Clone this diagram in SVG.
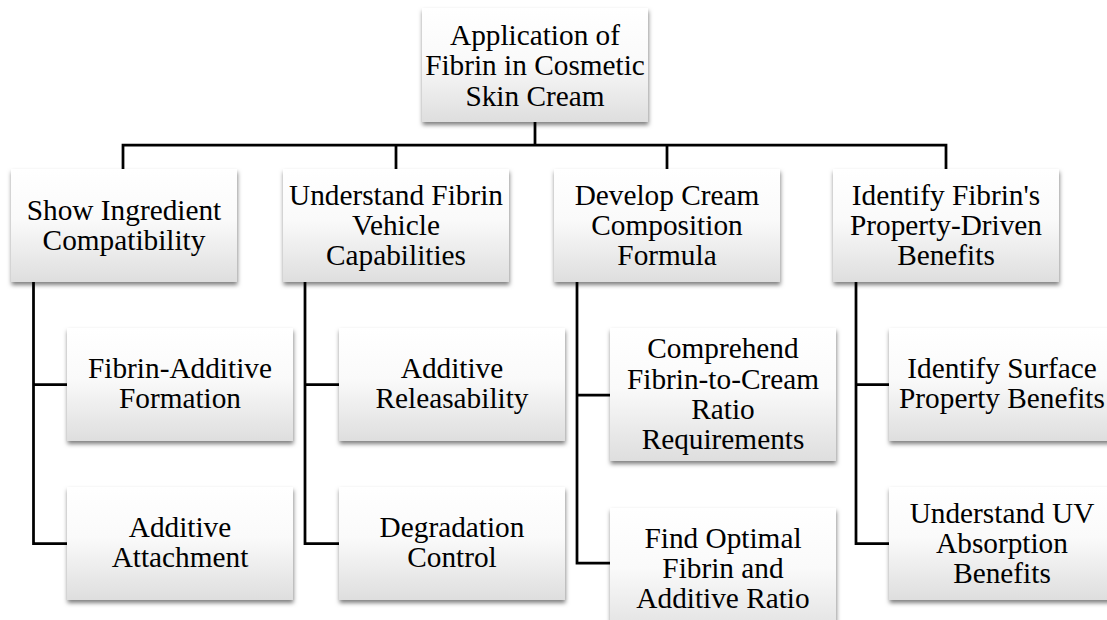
<svg xmlns="http://www.w3.org/2000/svg" width="1107" height="620" viewBox="0 0 1107 620">
<style>
.box{fill:url(#g);filter:url(#sh)}
.t{font-family:"Liberation Serif","Times New Roman",serif;font-size:29.3px;fill:#000;text-anchor:middle}
.c{fill:none;stroke:#000;stroke-width:2.75;stroke-linejoin:miter}
</style>
<defs>
<linearGradient id="g" x1="0" y1="0" x2="0" y2="1">
<stop offset="0" stop-color="#ffffff"/>
<stop offset="0.45" stop-color="#fafafa"/>
<stop offset="1" stop-color="#dedede"/>
</linearGradient>
<filter id="sh" x="-10%" y="-10%" width="120%" height="130%">
<feDropShadow dx="0.5" dy="3" stdDeviation="2.2" flood-color="#000" flood-opacity="0.5"/>
</filter>
</defs>
<rect width="1107" height="620" fill="#fff"/>
<g id="connectors">
<path class="c" d="M535,122V145M123,169V145H946V169M396,145V169M667,145V169"/>
<path class="c" d="M33.5,282V543.5H67M33.5,384.5H67"/>
<path class="c" d="M305,282V543.5H339M305,384.5H339"/>
<path class="c" d="M577,282V563H610M577,395H610"/>
<path class="c" d="M856,282V543.5H889M856,384.5H889"/>
</g>
<g id="root">
<rect class="box" x="422" y="8" width="226" height="114"/>
<text class="t" x="535"><tspan x="535" y="44.5">Application of</tspan><tspan x="535" y="75">Fibrin in Cosmetic</tspan><tspan x="535" y="105.5">Skin Cream</tspan></text>
</g>
<g id="n1">
<rect class="box" x="11" y="169" width="226" height="113"/>
<text class="t"><tspan x="124" y="220">Show Ingredient</tspan><tspan x="124" y="250">Compatibility</tspan></text>
</g>
<g id="n2">
<rect class="box" x="283" y="169" width="226" height="113"/>
<text class="t"><tspan x="396" y="205">Understand Fibrin</tspan><tspan x="396" y="235">Vehicle</tspan><tspan x="396" y="265">Capabilities</tspan></text>
</g>
<g id="n3">
<rect class="box" x="554" y="169" width="226" height="113"/>
<text class="t"><tspan x="667" y="205">Develop Cream</tspan><tspan x="667" y="235">Composition</tspan><tspan x="667" y="265">Formula</tspan></text>
</g>
<g id="n4">
<rect class="box" x="833" y="169" width="226" height="113"/>
<text class="t"><tspan x="946" y="205">Identify Fibrin's</tspan><tspan x="946" y="235">Property-Driven</tspan><tspan x="946" y="265">Benefits</tspan></text>
</g>
<g id="n1a">
<rect class="box" x="67" y="328" width="226" height="113"/>
<text class="t"><tspan x="180" y="378">Fibrin-Additive</tspan><tspan x="180" y="408">Formation</tspan></text>
</g>
<g id="n1b">
<rect class="box" x="67" y="487" width="226" height="113"/>
<text class="t"><tspan x="180" y="537">Additive</tspan><tspan x="180" y="567">Attachment</tspan></text>
</g>
<g id="n2a">
<rect class="box" x="339" y="328" width="226" height="113"/>
<text class="t"><tspan x="452" y="378">Additive</tspan><tspan x="452" y="408">Releasability</tspan></text>
</g>
<g id="n2b">
<rect class="box" x="339" y="487" width="226" height="113"/>
<text class="t"><tspan x="452" y="537">Degradation</tspan><tspan x="452" y="567">Control</tspan></text>
</g>
<g id="n3a">
<rect class="box" x="610" y="328" width="226" height="133"/>
<text class="t"><tspan x="723" y="358">Comprehend</tspan><tspan x="723" y="388.5">Fibrin-to-Cream</tspan><tspan x="723" y="419">Ratio</tspan><tspan x="723" y="449">Requirements</tspan></text>
</g>
<g id="n3b">
<rect class="box" x="610" y="508" width="226" height="133"/>
<text class="t"><tspan x="723" y="548">Find Optimal</tspan><tspan x="723" y="578">Fibrin and</tspan><tspan x="723" y="608">Additive Ratio</tspan></text>
</g>
<g id="n4a">
<rect class="box" x="889" y="328" width="226" height="113"/>
<text class="t"><tspan x="1002" y="378">Identify Surface</tspan><tspan x="1002" y="408">Property Benefits</tspan></text>
</g>
<g id="n4b">
<rect class="box" x="889" y="487" width="226" height="113"/>
<text class="t"><tspan x="1002" y="522.5">Understand UV</tspan><tspan x="1002" y="552.5">Absorption</tspan><tspan x="1002" y="582.5">Benefits</tspan></text>
</g>
</svg>
